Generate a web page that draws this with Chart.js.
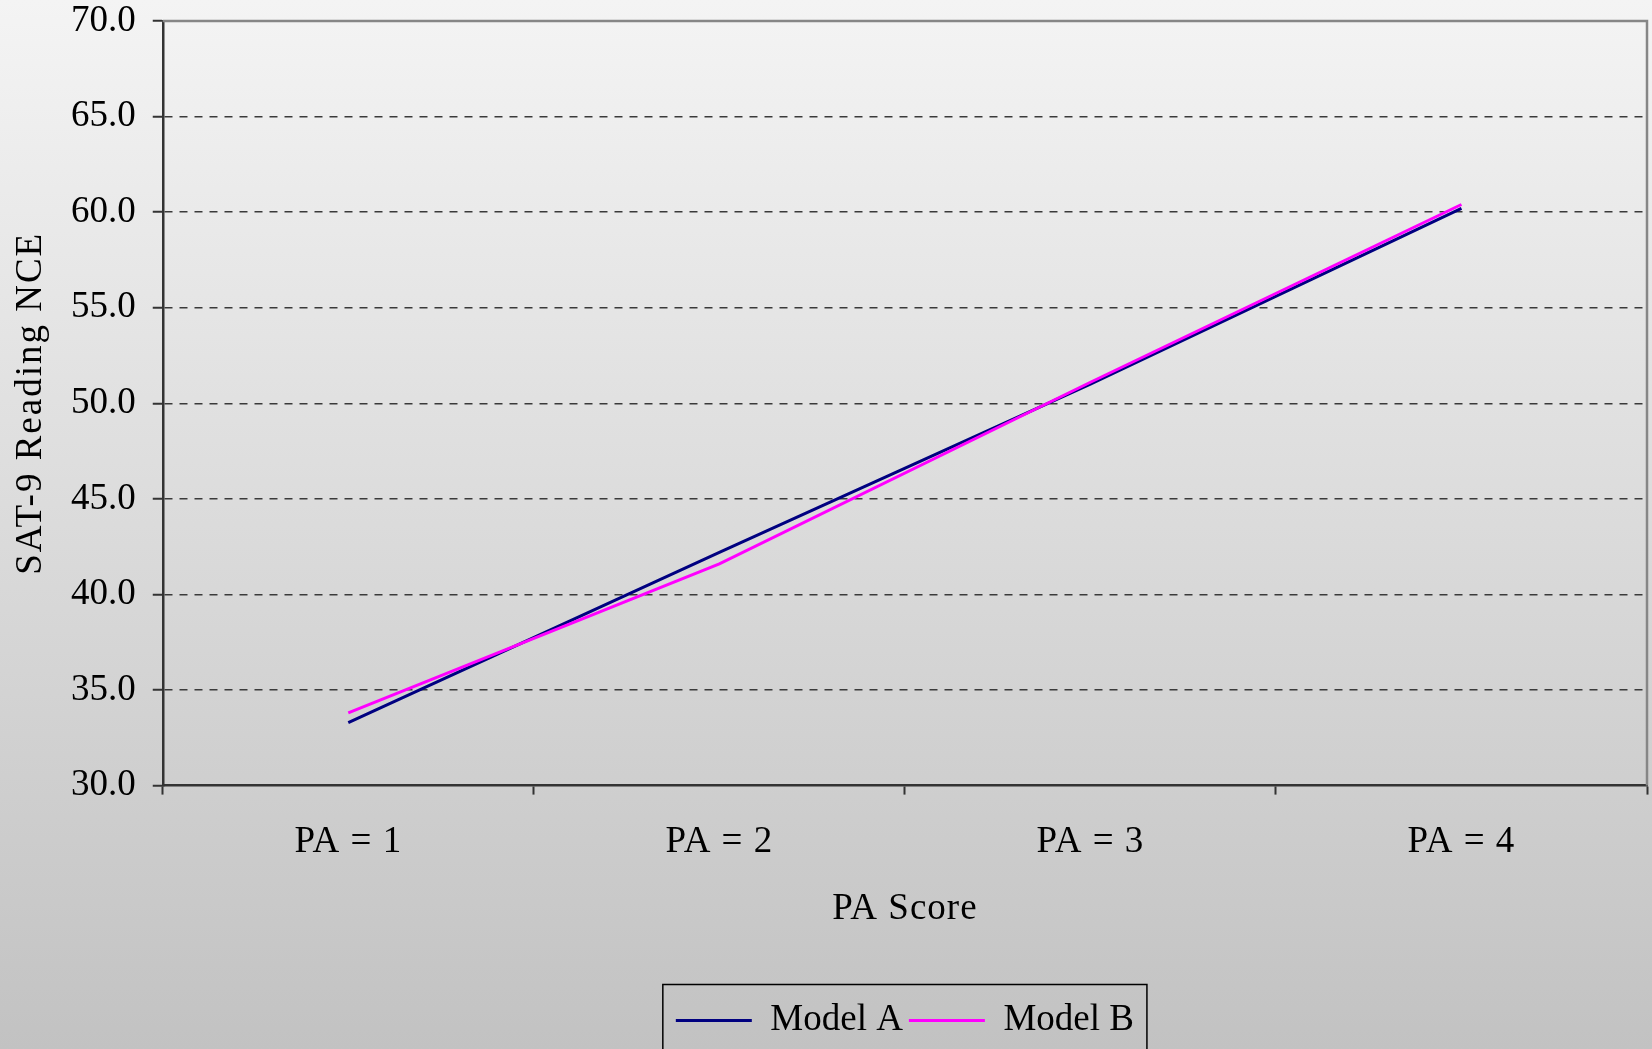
<!DOCTYPE html>
<html>
<head>
<meta charset="utf-8">
<script src="https://cdn.jsdelivr.net/npm/chart.js@4/dist/chart.umd.min.js"></script>
<style>
  html, body { margin: 0; padding: 0; overflow: hidden; }
  body { width: 1652px; height: 1049px; background: linear-gradient(to bottom, #f4f4f4, #c2c2c2); }
  #wrap { position: relative; width: 1652px; height: 1049px; }
</style>
</head>
<body>
<div id="wrap"><canvas id="chart"></canvas></div>
<script>
// ── Data ───────────────────────────────────────────────────────
const categories = ["PA = 1", "PA = 2", "PA = 3", "PA = 4"];
const modelA = [33.3, 42.2, 51.0, 60.2];
const modelB = [33.8, 41.6, 51.1, 60.4];
const yTicks = [30, 35, 40, 45, 50, 55, 60, 65, 70];

const FONT = "'Liberation Serif', 'Times New Roman', serif";
const INK = "#000000";
const SIZE = 37;

// The original's axis texts are set a little loose; widen them a touch.
function spaced(fn, amount) {
  return function (...args) {
    this.ctx.save();
    this.ctx.letterSpacing = amount;
    fn.apply(this, args);
    this.ctx.restore();
  };
}

// Excel-style plot frame: grey top/right edges, boxed legend.
const framePlugin = {
  id: "frame",
  beforeDraw(chart) {
    const { x, y } = chart.scales;
    if (!x._spaced) {
      x.drawLabels = spaced(x.drawLabels, "1px");
      x.drawTitle = spaced(x.drawTitle, "1px");
      y.drawTitle = spaced(y.drawTitle, "2px");
      x._spaced = true;
    }
  },
  afterDraw(chart) {
    const { ctx, chartArea: a, legend } = chart;
    ctx.save();
    ctx.strokeStyle = "#868686";
    ctx.lineWidth = 2.5;
    ctx.beginPath();
    ctx.moveTo(a.left, a.top);
    ctx.lineTo(a.right, a.top);
    ctx.lineTo(a.right, a.bottom);
    ctx.stroke();

    const boxes = legend && legend.legendHitBoxes;
    if (boxes && boxes.length) {
      const left = Math.min(...boxes.map((b) => b.left)) - 13;
      const right = Math.max(...boxes.map((b) => b.left + b.width)) + 13;
      const mid = boxes[0].top + boxes[0].height / 2;
      ctx.strokeStyle = "#000";
      ctx.lineWidth = 1.5;
      ctx.strokeRect(left, mid - 36, right - left, 72);
    }
    ctx.restore();
  },
};

new Chart(document.getElementById("chart"), {
  type: "line",
  data: {
    labels: categories,
    datasets: [
      { label: "Model A", data: modelA, borderColor: "#000080", backgroundColor: "#000080", borderWidth: 3, pointRadius: 0, tension: 0, order: 1 },
      { label: "Model B", data: modelB, borderColor: "#FF00FF", backgroundColor: "#FF00FF", borderWidth: 3, pointRadius: 0, tension: 0, order: 0 },
    ],
  },
  options: {
    responsive: true,
    maintainAspectRatio: false,
    animation: false,
    layout: { padding: { left: 4, right: 5, top: 21, bottom: 0 } },
    plugins: {
      tooltip: { enabled: false },
      legend: {
        position: "bottom",
        fullSize: false,
        labels: {
          color: INK,
          font: { family: FONT, size: SIZE },
          usePointStyle: true,
          pointStyle: "line",
          pointStyleWidth: 76,
          padding: 6,
          sort: (a, b) => a.datasetIndex - b.datasetIndex,
        },
      },
    },
    scales: {
      x: {
        offset: true,
        grid: { display: true, drawOnChartArea: false, offset: true, tickLength: 9, tickColor: "#333", tickWidth: 2 },
        border: { color: "#333", width: 2.5 },
        ticks: { color: INK, font: { family: FONT, size: SIZE }, padding: 25 },
        title: { display: true, text: "PA Score", color: INK, font: { family: FONT, size: SIZE, lineHeight: 1 }, padding: { top: 2, bottom: 68 } },
      },
      y: {
        min: 30,
        max: 70,
        afterBuildTicks: (scale) => { scale.ticks = yTicks.map((v) => ({ value: v })); },
        grid: {
          color: (c) => (c.tick && (c.tick.value === 30 || c.tick.value === 70) ? "transparent" : "#3a3a3a"),
          lineWidth: 1.5,
          tickLength: 10,
          tickColor: "#333",
          tickWidth: 2,
        },
        border: { color: "#333", width: 2.5, dash: [8, 7] },
        // small lineHeight keeps the top label from padding the plot down
        ticks: { color: INK, font: { family: FONT, size: SIZE, lineHeight: 0.2 }, padding: 17, callback: (v) => Number(v).toFixed(1) },
        title: { display: true, text: "SAT-9 Reading NCE", color: INK, font: { family: FONT, size: SIZE, lineHeight: 1 }, padding: { top: 9, bottom: 4 } },
      },
    },
  },
  plugins: [framePlugin],
});
</script>
</body>
</html>
